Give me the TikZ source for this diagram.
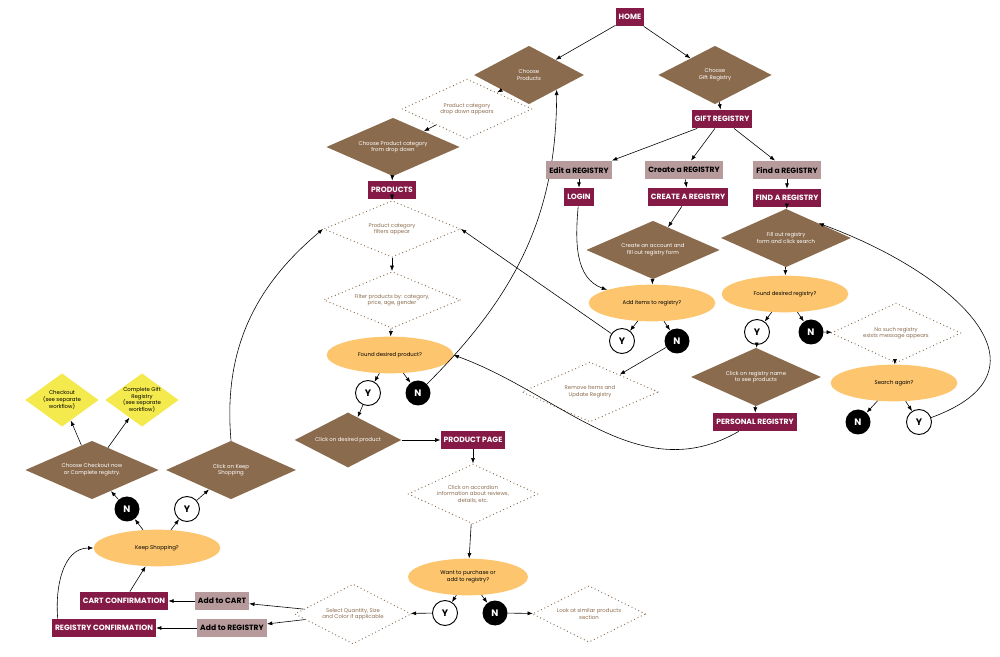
\documentclass[tikz,border=0pt]{standalone}
\usepackage{fontspec}
\setmainfont{Poppins}
\usetikzlibrary{shapes.geometric,arrows.meta}
\definecolor{maroon}{HTML}{841A45}
\definecolor{mud}{HTML}{8B6B4E}
\definecolor{peach}{HTML}{FDC56E}
\definecolor{rose}{HTML}{B79A9B}
\definecolor{lemon}{HTML}{F4EA4E}
\begin{document}
\begin{tikzpicture}[x=0.3mm,y=-0.3mm,
  page/.style={fill=maroon,text=white,font=\bfseries\fontsize{6.5}{7}\selectfont,inner sep=2.5pt,minimum height=5.5mm},
  link/.style={fill=rose,text=black,font=\bfseries\fontsize{6.5}{7}\selectfont,inner sep=2.5pt,minimum height=5.5mm},
  act/.style={diamond,aspect=2,fill=mud,text=white,font=\fontsize{4.6}{5.6}\selectfont,align=center,inner sep=0pt},
  info/.style={diamond,aspect=2.2,draw=mud,line width=1.1pt,line cap=round,dash pattern=on 0pt off 3.2pt,text=mud,font=\fontsize{4.6}{5.6}\selectfont,align=center,inner sep=0pt},
  ask/.style={ellipse,fill=peach,font=\fontsize{4.6}{5.6}\selectfont,align=center,minimum width=38mm,minimum height=11mm},
  exit/.style={diamond,aspect=1.4,fill=lemon,font=\fontsize{4.6}{5.6}\selectfont,align=center,inner sep=0pt,minimum width=22mm,minimum height=16mm},
  yes/.style={circle,draw,thick,fill=white,font=\bfseries\fontsize{8}{8}\selectfont,minimum size=7.5mm,inner sep=0pt},
  no/.style={circle,fill=black,text=white,font=\bfseries\fontsize{8}{8}\selectfont,minimum size=7.5mm,inner sep=0pt},
  flow/.style={-{Latex[length=1.6mm,width=1.2mm]},line width=0.5pt}]
  \useasboundingbox (0,0) rectangle (1000,657);
  % home and top level
  \node[page] (home) at (630,17) {HOME};
  \node[act,minimum width=33mm,minimum height=17.5mm] (chprod) at (529,75) {Choose\\Products};
  \node[act,minimum width=34mm,minimum height=17.5mm] (chgift) at (715,75) {Choose\\Gift Registry};
  \node[page] (gift) at (722,119) {GIFT REGISTRY};
  \draw[flow] (home) -- (chprod);
  \draw[flow] (home) -- (chgift);
  \draw[flow] (chgift) -- (gift);
  % products branch
  \node[info,minimum width=39mm,minimum height=18mm] (dropdn) at (467,109) {Product category\\drop down appears};
  \node[act,minimum width=40mm,minimum height=17.5mm] (chcat) at (393,147) {Choose Product category\\from drop down};
  \node[page] (prods) at (392,190) {PRODUCTS};
  \node[info,minimum width=41mm,minimum height=17mm] (filt) at (392,229) {Product category\\filters appear};
  \node[info,minimum width=41mm,minimum height=17mm] (filtby) at (392,300) {Filter products by: category,\\price, age, gender};
  \node[ask] (fndprod) at (390,355) {Found desired product?};
  \node[yes] (y1) at (368,393) {Y};
  \node[no] (n1) at (418,393) {N};
  \node[act,minimum width=32mm,minimum height=16.5mm] (clkprod) at (348,440) {Click on desired product};
  \node[page] (ppage) at (473,440) {PRODUCT PAGE};
  \node[info,minimum width=39mm,minimum height=18mm] (accord) at (473,494) {Click on accordion\\information about reviews,\\details, etc.};
  \node[ask,minimum width=36mm] (want) at (468,577) {Want to purchase or\\add to registry?};
  \node[yes] (y2) at (445,613) {Y};
  \node[no] (n2) at (495,613) {N};
  \node[info,minimum width=34mm,minimum height=17mm] (similar) at (589,614) {Look at similar products\\section};
  \node[info,minimum width=35mm,minimum height=18mm] (qty) at (353,614) {Select Quantity, Size\\and Color if applicable};
  \draw[flow] (chprod) -- (dropdn);
  \draw[flow] (dropdn) -- (chcat);
  \draw[flow] (chcat) -- (prods);
  \draw[flow] (prods) -- (filt);
  \draw[flow] (filt) -- (filtby);
  \draw[flow] (filtby) -- (fndprod);
  \draw[flow] (fndprod) -- (y1);
  \draw[flow] (fndprod) -- (n1);
  \draw[flow] (y1) -- (clkprod);
  \draw[flow] (clkprod) -- (ppage);
  \draw[flow] (ppage) -- (accord);
  \draw[flow] (accord) -- (want);
  \draw[flow] (want) -- (y2);
  \draw[flow] (want) -- (n2);
  \draw[flow] (y2) -- (qty);
  \draw[flow] (n2) -- (similar);
  \draw[flow] (n1) to[out=45,in=-90] (chprod.south east);
  % cart and registry
  \node[link] (addcart) at (222,601) {Add to CART};
  \node[link] (addreg) at (232,628) {Add to REGISTRY};
  \node[page] (cartok) at (124,601) {CART CONFIRMATION};
  \node[page] (regok) at (104,628) {REGISTRY CONFIRMATION};
  \node[ask] (keep) at (157,548) {Keep Shopping?};
  \node[no] (n3) at (127,509) {N};
  \node[yes] (y3) at (187,509) {Y};
  \node[act,minimum width=40mm,minimum height=17.5mm] (chout) at (92,470) {Choose Checkout now\\or Complete registry.};
  \node[act,minimum width=39mm,minimum height=17.5mm] (keepon) at (231,470) {Click on Keep\\Shopping};
  \node[exit] (checkout) at (62,400) {Checkout\\(see separate\\workflow)};
  \node[exit] (complete) at (142,400) {Complete Gift\\Registry\\(see separate\\workflow)};
  \draw[flow] (qty) -- (addcart);
  \draw[flow] (qty) -- (addreg);
  \draw[flow] (addcart) -- (cartok);
  \draw[flow] (addreg) -- (regok);
  \draw[flow] (cartok) -- (keep);
  \draw[flow] ([xshift=5pt]regok.north west) to[out=95,in=180] (keep.west);
  \draw[flow] (keep) -- (n3);
  \draw[flow] (keep) -- (y3);
  \draw[flow] (n3) -- (chout);
  \draw[flow] (y3) -- (keepon);
  \draw[flow] (chout) -- (checkout);
  \draw[flow] (chout) -- (complete);
  \draw[flow] (keepon.north) to[out=95,in=220] (filt.west);
  % registry branch
  \node[link] (edit) at (579,170) {Edit a REGISTRY};
  \node[link] (create) at (684,170) {Create a REGISTRY};
  \node[link] (find) at (787,170) {Find a REGISTRY};
  \node[page] (login) at (579,197) {LOGIN};
  \node[page] (newreg) at (688,197) {CREATE A REGISTRY};
  \node[page] (findreg) at (787,198) {FIND A REGISTRY};
  \node[act,minimum width=40mm,minimum height=17.5mm] (acct) at (653,250) {Create an account and\\fill out registry form};
  \node[act,minimum width=39mm,minimum height=17.5mm] (fillout) at (786,238) {Fill out registry\\form and click search};
  \node[ask] (additem) at (652,303) {Add items to registry?};
  \node[ask] (fndreg) at (785,294) {Found desired registry?};
  \node[yes] (y4) at (622,341) {Y};
  \node[no] (n4) at (677,341) {N};
  \node[yes] (y5) at (757,332) {Y};
  \node[no] (n5) at (811,332) {N};
  \node[info,minimum width=41mm,minimum height=18mm] (remove) at (590,392) {Remove Items and\\Update Registry};
  \node[info,minimum width=39mm,minimum height=18mm] (nosuch) at (896,333) {No such registry\\exists message appears};
  \node[act,minimum width=39mm,minimum height=17.5mm] (clkreg) at (756,377) {Click on registry name\\to see products};
  \node[page] (personal) at (755,422) {PERSONAL REGISTRY};
  \node[ask] (again) at (894,383) {Search again?};
  \node[no] (n6) at (858,422) {N};
  \node[yes] (y6) at (919,422) {Y};
  \draw[flow] (gift) -- (edit.north east);
  \draw[flow] (gift) -- (create);
  \draw[flow] (gift) -- (find);
  \draw[flow] (edit) -- (login);
  \draw[flow] (create) -- (newreg);
  \draw[flow] (find) -- (findreg);
  \draw[flow] (login) to[out=-95,in=160] (additem.north west);
  \draw[flow] (newreg) -- (acct);
  \draw[flow] (acct) -- (additem);
  \draw[flow] (additem) -- (y4);
  \draw[flow] (additem) -- (n4);
  \draw[flow] (n4) -- (remove);
  \draw[flow] (y4) -- (filt.east);
  \draw[flow] (findreg) -- (fillout);
  \draw[flow] (fillout) -- (fndreg);
  \draw[flow] (fndreg) -- (y5);
  \draw[flow] (fndreg) -- (n5);
  \draw[flow] (y5) -- (clkreg);
  \draw[flow] (clkreg) -- (personal);
  \draw[flow] (n5) -- (nosuch);
  \draw[flow] (nosuch) -- (again);
  \draw[flow] (again) -- (n6);
  \draw[flow] (again) -- (y6);
  \draw[flow] (y6) to[out=20,in=-20,looseness=1.6] (fillout.north east);
  \draw[flow] (personal) to[out=-150,in=-20] (fndprod.east);
\end{tikzpicture}
\end{document}
